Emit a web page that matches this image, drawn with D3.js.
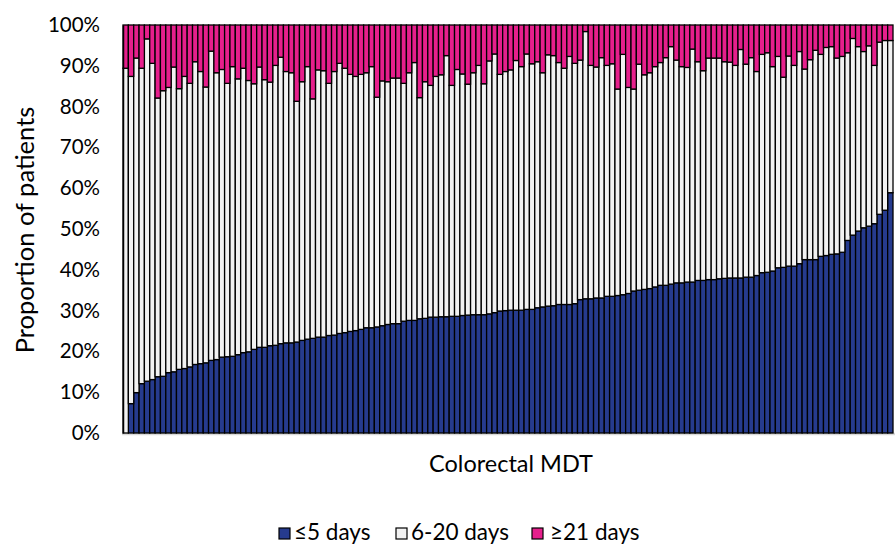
<!DOCTYPE html>
<html>
<head>
<meta charset="utf-8">
<script src="https://cdn.jsdelivr.net/npm/d3@7/dist/d3.min.js"></script>
<style>
  html, body { margin: 0; padding: 0; background: #ffffff; }
  svg { display: block; font-family: Lato, "Open Sans", sans-serif; }
</style>
</head>
<body>
<svg id="chart" width="895" height="545"></svg>
<script>
// Share of patients per colorectal MDT by time band (percent), MDTs ordered by the ≤5 days share
const teams = d3.range(1, 145).map(i => "MDT " + i);

const within5 = [
  0.0, 7.2, 9.9, 12.1, 12.7, 13.1, 13.8, 13.9, 14.8, 15.0, 15.6, 15.8, 16.2, 16.8, 17.0, 17.2,
  17.8, 18.0, 18.6, 18.7, 18.8, 19.2, 19.7, 19.9, 20.5, 21.0, 21.0, 21.4, 21.5, 21.9, 22.1, 22.1,
  22.3, 22.7, 23.0, 23.2, 23.5, 23.5, 23.9, 24.0, 24.4, 24.6, 24.9, 25.1, 25.4, 25.8, 25.8, 26.0,
  26.3, 26.6, 26.8, 26.8, 27.4, 27.6, 27.6, 28.0, 28.1, 28.4, 28.4, 28.5, 28.5, 28.6, 28.6, 28.8,
  28.9, 29.0, 29.0, 29.0, 29.2, 29.5, 29.9, 30.0, 30.1, 30.1, 30.1, 30.3, 30.3, 30.7, 30.9, 31.1,
  31.2, 31.5, 31.5, 31.5, 31.7, 32.7, 32.9, 32.9, 33.1, 33.1, 33.5, 33.5, 33.7, 33.9, 34.2, 34.8,
  35.0, 35.2, 35.4, 35.8, 36.2, 36.2, 36.5, 36.8, 36.8, 37.0, 37.0, 37.4, 37.4, 37.6, 37.6, 37.8,
  37.9, 38.0, 38.0, 38.0, 38.2, 38.2, 38.6, 39.3, 39.4, 39.7, 40.5, 40.6, 40.9, 40.9, 41.5, 42.5,
  42.5, 42.5, 43.3, 43.5, 43.8, 43.9, 44.3, 47.2, 48.5, 49.5, 50.3, 50.7, 51.3, 53.6, 54.6, 58.9
];

const days6to20 = [
  89.4, 80.2, 82.0, 77.3, 83.9, 77.5, 68.3, 70.0, 69.9, 74.7, 68.8, 71.6, 69.5, 74.2, 71.6, 67.6,
  75.8, 70.3, 70.5, 67.0, 71.0, 67.6, 69.7, 66.5, 65.1, 68.7, 65.6, 64.6, 68.6, 70.2, 66.5, 66.2,
  59.0, 63.4, 66.8, 58.7, 65.5, 65.3, 61.8, 64.6, 66.2, 64.8, 63.0, 62.3, 62.5, 62.5, 64.0, 56.3,
  60.0, 59.5, 60.2, 60.2, 58.3, 60.7, 63.2, 54.2, 58.0, 56.8, 59.0, 59.3, 64.0, 56.6, 60.5, 59.2,
  56.6, 59.3, 61.1, 56.6, 62.0, 63.4, 58.0, 58.6, 58.9, 61.2, 59.7, 62.6, 60.2, 60.3, 57.4, 61.6,
  61.3, 59.3, 57.9, 60.8, 58.9, 58.7, 65.5, 57.2, 56.6, 58.9, 56.6, 57.0, 50.6, 58.9, 50.5, 49.5,
  55.4, 52.6, 52.9, 54.0, 54.6, 55.8, 58.2, 54.6, 53.0, 52.6, 57.1, 53.6, 51.4, 54.3, 54.3, 54.1,
  53.1, 52.9, 52.1, 56.0, 52.2, 53.8, 50.0, 53.5, 53.8, 50.1, 51.8, 46.6, 51.5, 49.2, 52.0, 46.7,
  49.0, 51.3, 49.5, 51.0, 50.9, 48.0, 48.0, 46.0, 48.2, 45.2, 43.2, 44.2, 38.8, 42.2, 41.6, 37.3
];

const days21plus = [
  10.6, 12.6, 8.1, 10.6, 3.4, 9.4, 17.9, 16.1, 15.3, 10.3, 15.6, 12.6, 14.3, 9.0, 11.4, 15.2,
  6.4, 11.7, 10.9, 14.3, 10.2, 13.2, 10.6, 13.6, 14.4, 10.3, 13.4, 14.0, 9.9, 7.9, 11.4, 11.7,
  18.7, 13.9, 10.2, 18.1, 11.0, 11.2, 14.3, 11.4, 9.4, 10.6, 12.1, 12.6, 12.1, 11.7, 10.2, 17.7,
  13.7, 13.9, 13.0, 13.0, 14.3, 11.7, 9.2, 17.8, 13.9, 14.8, 12.6, 12.2, 7.5, 14.8, 10.9, 12.0,
  14.5, 11.7, 9.9, 14.4, 8.8, 7.1, 12.1, 11.4, 11.0, 8.7, 10.2, 7.1, 9.5, 9.0, 11.7, 7.3,
  7.5, 9.2, 10.6, 7.7, 9.4, 8.6, 1.6, 9.9, 10.3, 8.0, 9.9, 9.5, 15.7, 7.2, 15.3, 15.7,
  9.6, 12.2, 11.7, 10.2, 9.2, 8.0, 5.3, 8.6, 10.2, 10.4, 5.9, 9.0, 11.2, 8.1, 8.1, 8.1,
  9.0, 9.1, 9.9, 6.0, 9.6, 8.0, 11.4, 7.2, 6.8, 10.2, 7.7, 12.8, 7.6, 9.9, 6.5, 10.8,
  8.5, 6.2, 7.2, 5.5, 5.3, 8.1, 7.7, 6.8, 3.3, 5.3, 6.5, 5.1, 9.9, 4.2, 3.8, 3.8
];

const seriesNames = ["≤5 days", "6-20 days", "≥21 days"];
const seriesColors = ["#263b8e", "#f2f2f2", "#e61f8c"];
const yTicks = [0, 10, 20, 30, 40, 50, 60, 70, 80, 90, 100];

const rows = teams.map((t, i) => ({
  team: t,
  s0: within5[i],
  s1: days6to20[i],
  s2: days21plus[i]
}));

const svg = d3.select("#chart");
const plot = { left: 123, right: 893, top: 25, bottom: 433 };

const x = d3.scaleBand().domain(teams).range([plot.left, plot.right]).padding(0);
const y = d3.scaleLinear().domain([0, 100]).range([plot.bottom, plot.top]);

const stacked = d3.stack().keys(["s0", "s1", "s2"])(rows);

// Baseline (category axis)
svg.append("line")
  .attr("x1", plot.left - 1).attr("x2", 895)
  .attr("y1", plot.bottom + 1).attr("y2", plot.bottom + 1)
  .attr("stroke", "#d9d9d9").attr("stroke-width", 2.5);

// Stacked bars
svg.append("g")
  .selectAll("g")
  .data(stacked)
  .join("g")
  .attr("fill", (d, i) => seriesColors[i])
  .selectAll("rect")
  .data(d => d)
  .join("rect")
  .attr("x", d => x(d.data.team))
  .attr("width", x.bandwidth())
  .attr("y", d => y(d[1]))
  .attr("height", d => Math.max(0, y(d[0]) - y(d[1])))
  .attr("stroke", "#000")
  .attr("stroke-width", 1.3);

// Value axis
const yAxis = svg.append("g")
  .attr("transform", `translate(${plot.left},0)`)
  .call(d3.axisLeft(y).tickValues(yTicks).tickFormat(d => d + "%").tickSize(0).tickPadding(23));
yAxis.select(".domain").attr("stroke", "#000").attr("stroke-width", 1.5);
yAxis.selectAll("text")
  .attr("font-family", "Lato, sans-serif")
  .attr("font-size", 20.5)
  .attr("fill", "#000");

// Axis titles
svg.append("text")
  .attr("transform", `translate(34,${(plot.top + plot.bottom) / 2 + 1}) rotate(-90)`)
  .attr("text-anchor", "middle")
  .attr("font-size", 25.5)
  .attr("fill", "#000")
  .text("Proportion of patients");

svg.append("text")
  .attr("x", 511)
  .attr("y", 472)
  .attr("text-anchor", "middle")
  .attr("font-size", 23.5)
  .attr("fill", "#000")
  .text("Colorectal MDT");

// Legend
const legendX = [279, 396, 532];
const legend = svg.append("g");
seriesNames.forEach((name, i) => {
  const g = legend.append("g").attr("transform", `translate(${legendX[i]},528)`);
  g.append("rect")
    .attr("width", 11).attr("height", 11)
    .attr("fill", seriesColors[i])
    .attr("stroke", "#000").attr("stroke-width", 1.2);
  g.append("text")
    .attr("x", i === 2 ? 18 : 15)
    .attr("y", 12)
    .attr("font-size", 22.5)
    .attr("fill", "#000")
    .text(name);
});
</script>
</body>
</html>
